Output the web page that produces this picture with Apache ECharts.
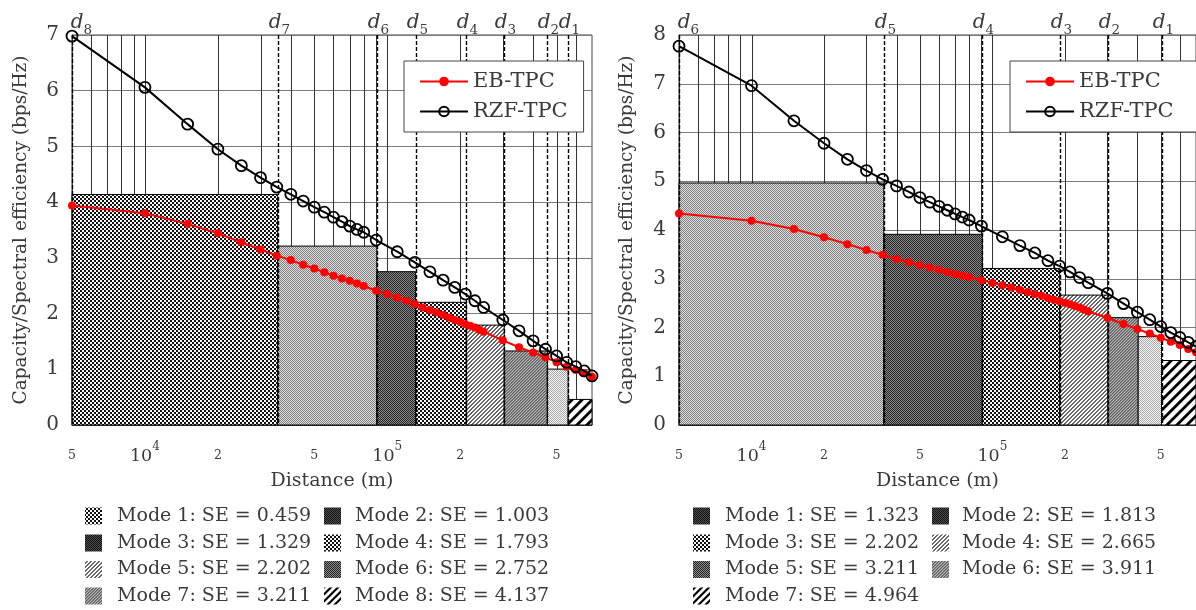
<!DOCTYPE html>
<html><head><meta charset="utf-8">
<script src="https://cdn.jsdelivr.net/npm/echarts@6/dist/echarts.min.js"></script>
<style>html,body{margin:0;padding:0;background:#fff}#c{width:1196px;height:610px}</style>
</head><body><div id="c"></div>
<script>
// ---------------- data ----------------
// Left panel
var ebXLeft = [5000,10000,15000,20000,25000,30000,35000,40000,45000,50000,55000,60000,65000,70000,75000,80000,
  90000,100000,110000,120000,130000,140000,150000,160000,170000,180000,190000,200000,210000,220000,230000,240000,250000,
  300000,350000,400000,450000,500000,550000,600000,650000,700000];
var ebYLeft = [3.94,3.80,3.61,3.44,3.28,3.15,3.04,2.96,2.875,2.81,2.74,2.68,2.63,2.59,2.54,2.495,
  2.41,2.35,2.29,2.23,2.17,2.11,2.06,2.02,1.975,1.93,1.885,1.855,1.81,1.78,1.75,1.705,1.675,
  1.52,1.395,1.30,1.215,1.125,1.047,0.987,0.928,0.867];
var rzfXLeft = [5000,10000,15000,20000,25000,30000,35000,40000,45000,50000,55000,60000,65000,70000,75000,80000,
  90000,110000,130000,150000,170000,190000,210000,230000,250000,
  300000,350000,400000,450000,500000,550000,600000,650000,700000];
var rzfYLeft = [6.98,6.06,5.40,4.95,4.655,4.44,4.27,4.14,4.02,3.91,3.82,3.73,3.65,3.57,3.51,3.46,
  3.32,3.11,2.92,2.75,2.60,2.47,2.35,2.23,2.11,
  1.885,1.69,1.51,1.36,1.24,1.125,1.047,0.97,0.88];
var modeEdgesLeft = [5000,35300,90600,131000,212000,304000,458000,558000,700000];
var seLeft = [0.459,1.003,1.329,1.793,2.202,2.752,3.211,4.137];
var dLinesLeft = [5000,35300,90600,131000,212000,304000,458000,558000];
var dSubLeft = ['8','7','6','5','4','3','2','1'];

// Right panel
var ebXRight = [5000,10000,15000,20000,25000,30000,35000,40000,45000,50000,55000,60000,65000,70000,75000,80000,
  90000,100000,110000,120000,130000,140000,150000,160000,170000,180000,190000,200000,210000,220000,230000,240000,250000,
  300000,350000,400000,450000,500000,550000,600000,650000,700000];
var ebYRight = [4.34,4.19,4.02,3.85,3.71,3.59,3.49,3.405,3.34,3.28,3.23,3.185,3.14,3.10,3.065,3.035,
  2.97,2.915,2.865,2.82,2.775,2.73,2.685,2.65,2.605,2.57,2.54,2.51,2.475,2.44,2.41,2.37,2.33,
  2.20,2.07,1.97,1.875,1.79,1.71,1.64,1.56,1.49];
var rzfXRight = [5000,10000,15000,20000,25000,30000,35000,40000,45000,50000,55000,60000,65000,70000,75000,80000,
  90000,110000,130000,150000,170000,190000,210000,230000,250000,
  300000,350000,400000,450000,500000,550000,600000,650000,700000];
var rzfYRight = [7.77,6.96,6.24,5.78,5.45,5.22,5.04,4.905,4.78,4.665,4.57,4.485,4.405,4.33,4.265,4.205,
  4.08,3.86,3.68,3.53,3.37,3.26,3.14,3.025,2.92,
  2.70,2.49,2.315,2.16,2.02,1.895,1.795,1.695,1.61];
var modeEdgesRight = [5000,35400,90800,190300,301700,402800,503500,700000];
var seRight = [1.323,1.813,2.202,2.665,3.211,3.911,4.964];
var dLinesRight = [5000,35400,90800,190300,301700,503500];
var dSubRight = ['6','5','4','3','2','1'];

// axis ticks / grid
var xMin = 5000, xMax = 700000;
var gridXValues = [6000,7000,8000,9000,10000,20000,30000,40000,50000,60000,70000,80000,90000,
  100000,200000,300000,400000,500000,600000];
var tickValues = [5000,10000,20000,50000,100000,200000,500000];
var tickTexts = ['5','10^4','2','5','10^5','2','5'];
var yMaxLeft = 7, yMaxRight = 8;
var seriesNames = ['EB-TPC','RZF-TPC'];

// styles (pattern names)
var barPatLeft = ['cross','lightgray','darkgray','cross','thindiag','graydiag','lightdots','thickdiag'];
var barPatRight = ['lightgray','darkgray','cross','thindiag','graydiag','lightdots','thickdiag'];
var swPatLeft = ['cross','vdark','vdark','cross','thindiag','darkgray','graydiag','thickdiagS'];
var swPatRight = ['vdark','vdark','cross','thindiag','darkgray','graydiag','thickdiagS'];

// ---------------- patterns ----------------
function pat(w, h, fn) {
  var c = document.createElement('canvas'); c.width = w; c.height = h;
  var ctx = c.getContext('2d'); var img = ctx.createImageData(w, h);
  for (var y = 0; y < h; y++) for (var x = 0; x < w; x++) {
    var g = fn(x, y); var i = (y * w + x) * 4;
    img.data[i] = img.data[i+1] = img.data[i+2] = g; img.data[i+3] = 255;
  }
  ctx.putImageData(img, 0, 0);
  return { image: c, repeat: 'repeat' };
}
function stripe(period, width, dark, light) {
  return pat(period, period, function (x, y) {
    var s = 0;
    for (var a = 0; a < 4; a++) for (var b = 0; b < 4; b++) {
      var u = x + (a + 0.5) / 4, v = y + (b + 0.5) / 4;
      var d = ((u + v) % period + period) % period;
      if (d < width) s++;
    }
    var f = s / 16; return Math.round(light * (1 - f) + dark * f);
  });
}
var P = {
  cross: pat(4, 4, function (x, y) { return (((x >> 1) + (y >> 1)) % 2) ? 15 : 250; }),
  lightgray: pat(2, 2, function (x, y) { return ((x + y) % 2) ? 225 : 125; }),
  darkgray: pat(2, 2, function (x, y) { return ((x + y) % 2) ? 140 : 35; }),
  vdark: pat(2, 2, function (x, y) { return ((x + y) % 2) ? 80 : 15; }),
  lightdots: pat(2, 2, function (x, y) { return ((x + y) % 2) ? 250 : 165; }),
  graydiag: stripe(3, 1, 40, 185),
  thindiag: stripe(4, 1.2, 10, 255),
  thickdiag: stripe(10, 3.8, 0, 255),
  thickdiagS: stripe(7, 2.8, 0, 255)
};

// ---------------- helpers ----------------
var FONT = 'DejaVu Serif';
var TXT = '#3a3a3a';
function zip(xs, ys) { var o = []; for (var i = 0; i < xs.length; i++) o.push([xs[i], ys[i]]); return o; }
function barData(edges, se) {
  var h = se.slice().reverse(), o = [];
  for (var i = 0; i < h.length; i++) o.push([edges[i], edges[i+1], h[i]]);
  return o;
}
function gridLines(gi) {
  return { type: 'custom', xAxisIndex: gi, yAxisIndex: gi, z: 1, silent: true,
    data: gridXValues.map(function (v) { return [v, 0]; }), encode: { x: 0, y: 1 },
    renderItem: function (params, api) {
      var cs = params.coordSys; var x = Math.round(api.coord([api.value(0), 0])[0]) + 0.5;
      return { type: 'line', shape: { x1: x, y1: cs.y, x2: x, y2: cs.y + cs.height },
        style: { stroke: '#333', lineWidth: 1 } };
    } };
}
var tickRich = {
  n: { fontFamily: FONT, fontSize: 17.5, lineHeight: 30, verticalAlign: 'middle', fill: TXT, color: TXT },
  s: { fontFamily: FONT, fontSize: 12, lineHeight: 12, verticalAlign: 'top', fill: TXT, color: TXT },
  m: { fontFamily: FONT, fontSize: 12.5, lineHeight: 14, verticalAlign: 'middle', fill: TXT, color: TXT }
};
function tickLabels(gi) {
  return { type: 'custom', xAxisIndex: gi, yAxisIndex: gi, z: 6, silent: true, clip: false,
    data: tickValues.map(function (v) { return [v, 0]; }), encode: { x: 0, y: 1 },
    renderItem: function (params, api) {
      var cs = params.coordSys; var x = api.coord([api.value(0), 0])[0];
      var t = tickTexts[params.dataIndex]; var m = t.split('^');
      var txt = m.length > 1 ? '{n|' + m[0] + '}{s|' + m[1] + '}' : '{m|' + t + '}';
      return { type: 'text', x: x, y: cs.y + cs.height + 31,
        style: { text: txt, rich: tickRich, align: 'center', verticalAlign: 'middle', fill: TXT } };
    } };
}
var dRich = {
  d: { fontFamily: FONT, fontStyle: 'italic', fontSize: 20, lineHeight: 24, verticalAlign: 'top', fill: TXT, color: TXT },
  s: { fontFamily: FONT, fontSize: 13.5, lineHeight: 14, verticalAlign: 'bottom', fill: TXT, color: TXT }
};
function dLines(gi, vals, subs) {
  return { type: 'custom', xAxisIndex: gi, yAxisIndex: gi, z: 3, silent: true, clip: false,
    data: vals.map(function (v) { return [v, 0]; }), encode: { x: 0, y: 1 },
    renderItem: function (params, api) {
      var cs = params.coordSys; var x = Math.round(api.coord([api.value(0), 0])[0]) + 0.5;
      var off = params.dataIndex === 0 ? 9 : 1;
      return { type: 'group', children: [
        { type: 'line', shape: { x1: x, y1: cs.y, x2: x, y2: cs.y + cs.height },
          style: { stroke: '#000', lineWidth: 1.4, lineDash: [4, 2] } },
        { type: 'text', x: x + off, y: cs.y + 2,
          style: { text: '{d|d}{s|' + subs[params.dataIndex] + '}', rich: dRich, align: 'center', verticalAlign: 'bottom', fill: TXT } }
      ] };
    } };
}
function bars(gi, data, pats) {
  return { type: 'custom', xAxisIndex: gi, yAxisIndex: gi, z: 2, silent: true,
    data: data, encode: { x: [0, 1], y: 2 },
    renderItem: function (params, api) {
      var p0 = api.coord([api.value(0), api.value(2)]);
      var p1 = api.coord([api.value(1), 0]);
      return { type: 'rect', shape: { x: p0[0], y: p0[1], width: p1[0] - p0[0], height: p1[1] - p0[1] },
        style: { fill: P[pats[params.dataIndex]], stroke: '#000', lineWidth: 1 } };
    } };
}
function ebSeries(gi, xs, ys) {
  return { type: 'line', name: seriesNames[0], xAxisIndex: gi, yAxisIndex: gi, z: 5,
    data: zip(xs, ys), symbol: 'circle', symbolSize: 8, showSymbol: true,
    lineStyle: { color: '#ff0000', width: 2 }, itemStyle: { color: '#ff0000' } };
}
function rzfSeries(gi, xs, ys) {
  return { type: 'line', name: seriesNames[1], xAxisIndex: gi, yAxisIndex: gi, z: 6,
    data: zip(xs, ys), symbol: 'circle', symbolSize: 11, showSymbol: true,
    lineStyle: { color: '#000', width: 2 },
    itemStyle: { color: 'rgba(255,255,255,0)', borderColor: '#000', borderWidth: 1.8 } };
}
function xAxisCfg(gi) {
  return { type: 'log', gridIndex: gi, logBase: 10, min: xMin, max: xMax,
    name: 'Distance (m)', nameLocation: 'middle', nameGap: 47,
    nameTextStyle: { fontFamily: FONT, fontSize: 19, color: TXT },
    axisLine: { show: true, lineStyle: { color: '#444', width: 1 } },
    axisTick: { show: false }, axisLabel: { show: false }, splitLine: { show: false }, minorTick: { show: false } };
}
function yAxisCfg(gi, max, gap) {
  return { type: 'value', gridIndex: gi, min: 0, max: max, interval: 1,
    name: 'Capacity/Spectral efficiency (bps/Hz)', nameLocation: 'middle', nameGap: gap,
    nameTextStyle: { fontFamily: FONT, fontSize: 18.5, color: TXT },
    axisLine: { show: true, lineStyle: { color: '#444', width: 1 } },
    axisTick: { show: false },
    axisLabel: { fontFamily: FONT, fontSize: 20, color: TXT, margin: 13 },
    splitLine: { show: true, lineStyle: { color: '#7a7a7a', width: 1 } } };
}
function legendCfg(left, padRight) {
  return { data: seriesNames, orient: 'vertical', left: left, top: 61, z: 10,
    selectedMode: false, backgroundColor: '#fff', borderColor: '#444', borderWidth: 1, borderRadius: 0,
    padding: [10, padRight, 10, 15], itemGap: 9, itemWidth: 48, itemHeight: 12, itemTextGap: 14,
    textStyle: { fontFamily: FONT, fontSize: 21, color: TXT } };
}
function modeLegend(se, pats, swX, txX) {
  var rowY = [516, 543, 569.5, 596]; var els = [];
  for (var i = 0; i < se.length; i++) {
    var col = i % 2, row = Math.floor(i / 2);
    els.push({ type: 'rect', shape: { x: swX[col], y: rowY[row] - 8.5, width: 17, height: 17 },
      style: { fill: P[pats[i]] }, silent: true });
    els.push({ type: 'text', x: txX[col], y: rowY[row],
      style: { text: 'Mode ' + (i + 1) + ': SE = ' + se[i].toFixed(3), fontFamily: FONT, fontSize: 19,
        fill: TXT, align: 'left', verticalAlign: 'middle' }, silent: true });
  }
  return els;
}

// ---------------- chart ----------------
var chart = echarts.init(document.getElementById('c'), null, { renderer: 'canvas', width: 1196, height: 610 });
chart.setOption({
  animation: false,
  backgroundColor: '#fff',
  textStyle: { fontFamily: FONT },
  grid: [
    { left: 72, top: 35, right: 604, bottom: 185, show: true, borderColor: '#444', borderWidth: 1, backgroundColor: 'transparent' },
    { left: 679, top: 35, right: -2, bottom: 185, show: true, borderColor: '#444', borderWidth: 1, backgroundColor: 'transparent' }
  ],
  xAxis: [xAxisCfg(0), xAxisCfg(1)],
  yAxis: [yAxisCfg(0, yMaxLeft, 41), yAxisCfg(1, yMaxRight, 42)],
  legend: [legendCfg(404, 16), legendCfg(1010, 90)],
  graphic: { elements: modeLegend(seLeft, swPatLeft, [85, 324], [117, 355])
    .concat(modeLegend(seRight, swPatRight, [693, 932], [725, 962])) },
  series: [
    gridLines(0), gridLines(1),
    bars(0, barData(modeEdgesLeft, seLeft), barPatLeft),
    bars(1, barData(modeEdgesRight, seRight), barPatRight),
    dLines(0, dLinesLeft, dSubLeft), dLines(1, dLinesRight, dSubRight),
    tickLabels(0), tickLabels(1),
    ebSeries(0, ebXLeft, ebYLeft), rzfSeries(0, rzfXLeft, rzfYLeft),
    ebSeries(1, ebXRight, ebYRight), rzfSeries(1, rzfXRight, rzfYRight)
  ]
});
</script></body></html>
